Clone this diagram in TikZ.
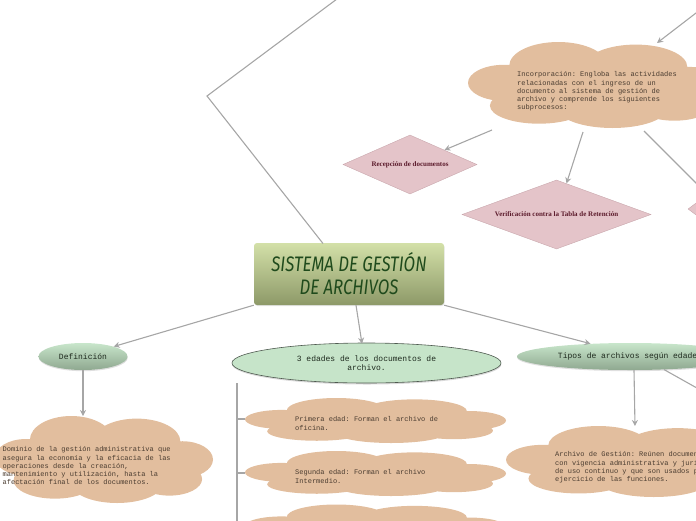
\documentclass[tikz,border=0pt]{standalone}
\usepackage{graphicx}
\usepackage{fontspec}
\setmainfont{Liberation Serif}
\setmonofont{Liberation Mono}
\newfontfamily\titlefont{Fira Sans}
\usetikzlibrary{shapes.geometric,arrows.meta,shadows}
\definecolor{linegray}{HTML}{A6A6A6}
\definecolor{cloudfill}{HTML}{E2BE9E}
\definecolor{cloudtext}{HTML}{4A3C30}
\definecolor{diafill}{HTML}{E4C4C9}
\definecolor{diadraw}{HTML}{C9A7AD}
\definecolor{diatext}{HTML}{5B1A2B}
\definecolor{titletop}{HTML}{D3E0A8}
\definecolor{titlebottom}{HTML}{8D9968}
\definecolor{titletext}{HTML}{1F4A1C}
\definecolor{elltop}{HTML}{C8E6CB}
\definecolor{ellbottom}{HTML}{8FA890}
\definecolor{elltext}{HTML}{1E2A1E}
\definecolor{edadesfill}{HTML}{C6E4C9}
\definecolor{edadesdraw}{HTML}{4F5A50}
\tikzset{
  ln/.style={draw=linegray, line width=1.1pt},
  arr/.style={draw=linegray, line width=1.1pt, -{Stealth[length=6pt,width=6pt]}},
  cloudtxt/.style={font=\ttfamily\fontsize{7}{8.3}\selectfont, text=cloudtext, align=left, inner sep=0pt, anchor=north west},
  dia/.style={diamond, fill=diafill, draw=diadraw, line width=0.4pt, inner sep=0pt,
    font=\bfseries\fontsize{7}{8}\selectfont, text=diatext},
  titlebox/.style={rectangle, rounded corners=3pt, top color=titletop, bottom color=titlebottom,
    minimum width=190pt, minimum height=62pt, inner sep=0pt, align=center, text=titletext,
    font=\titlefont\itshape\fontsize{21}{23}\selectfont,
    drop shadow={opacity=0.2, shadow xshift=0.5pt, shadow yshift=-1pt}},
  gell/.style={ellipse, top color=elltop, bottom color=ellbottom, inner sep=0pt,
    font=\ttfamily\fontsize{8}{9.5}\selectfont, text=elltext,
    drop shadow={opacity=0.25, shadow xshift=0.3pt, shadow yshift=-1.2pt}},
  cloudpic/.pic={
    \fill[cloudfill]
      (0,0.05) ellipse [x radius=0.75, y radius=0.62]
      (-0.3,-0.45) ellipse [x radius=0.38, y radius=0.55]
      (0.3,-0.42) ellipse [x radius=0.4, y radius=0.52]
      (-0.72,-0.05) ellipse [x radius=0.28, y radius=0.42]
      (0.72,0) ellipse [x radius=0.28, y radius=0.42]
      (-0.45,0.48) ellipse [x radius=0.38, y radius=0.42]
      (0.12,0.55) ellipse [x radius=0.42, y radius=0.45]
      (0.6,0.45) ellipse [x radius=0.3, y radius=0.38];
  }
}
\begin{document}
\begin{tikzpicture}[x=1pt,y=-1pt]
\useasboundingbox (0,0) rectangle (696,520);
\clip (0,0) rectangle (696,520);

% clouds
\pic[xscale=129, yscale=43] at (597,85) {cloudpic};
\pic[xscale=109, yscale=43.5] at (104,459.5) {cloudpic};
\pic[xscale=130.5, yscale=22.5] at (375.5,420.5) {cloudpic};
\pic[xscale=130.5, yscale=22.5] at (375.5,473.5) {cloudpic};
\pic[xscale=130.5, yscale=22.5] at (375.5,527) {cloudpic};
\pic[xscale=132, yscale=35.5] at (638,461.5) {cloudpic};

% cloud texts
\node[cloudtxt] (incorp) at (517,71.5) {Incorporación: Engloba las actividades\\relacionadas con el ingreso de un\\documento al sistema de gestión de\\archivo y comprende los siguientes\\subprocesos:};
\node[cloudtxt] (dominio) at (2.5,446.5) {Dominio de la gestión administrativa que\\asegura la economía y la eficacia de las\\operaciones desde la creación,\\mantenimiento y utilización, hasta la\\afectación final de los documentos.};
\node[cloudtxt] (primera) at (295,416.5) {Primera edad: Forman el archivo de\\oficina.};
\node[cloudtxt] (segunda) at (295,469.5) {Segunda edad: Forman el archivo\\Intermedio.};
\node[cloudtxt] (gestion) at (555,451.5) {Archivo de Gestión: Reúnen documentos\\con vigencia administrativa y jurídica\\de uso continuo y que son usados para el\\ejercicio de las funciones.};

% main nodes
\node[titlebox] (title) at (349,274) {\scalebox{0.8}[1]{SISTEMA DE GESTIÓN}\\\scalebox{0.8}[1]{DE ARCHIVOS}};
\node[gell, minimum width=89pt, minimum height=27pt] (defn) at (83,356.5) {Definición};
\node[ellipse, fill=edadesfill, draw=edadesdraw, line width=0.6pt, minimum width=269pt, minimum height=40pt,
  inner sep=0pt, align=center, font=\ttfamily\fontsize{8}{9.5}\selectfont, text=elltext,
  drop shadow={opacity=0.3, shadow xshift=0.3pt, shadow yshift=-1.5pt}] (edades) at (366.5,363)
  {3 edades de los documentos de\\archivo.};
\node[gell, minimum width=226pt, minimum height=27pt] (tipos) at (630,356.5) {Tipos de archivos según edades};

\node[dia, aspect=2.27, minimum width=134pt, minimum height=59pt] (recep) at (410,164.5) {Recepción de documentos};
\node[dia, aspect=2.74, minimum width=189pt, minimum height=69pt] (verif) at (556.5,214.5) {Verificación contra la Tabla de Retención};
\node[dia, aspect=1.35, minimum width=140pt, minimum height=104pt] (dia3) at (758,209) {};

% coordinates for free ends
\coordinate (tA) at (323,243.5);
\coordinate (tB) at (207,96);
\coordinate (tC) at (349,-10);
\coordinate (topR) at (724,-8.5);
\coordinate (incTop) at (657,43);
\coordinate (incA) at (492,130);
\coordinate (incB) at (583,132);
\coordinate (incC) at (644,131);
\coordinate (dia3hit) at (707.5,194.5);
\coordinate (defnCloudTop) at (83,416);
\coordinate (archTop) at (635,426);
\coordinate (tipOff) at (740,412.2);
\coordinate (brTop) at (237,383);
\coordinate (brBot) at (237,530);
\coordinate (br1) at (237,419);
\coordinate (br1e) at (245,419);
\coordinate (br2) at (237,473);
\coordinate (br2e) at (245,473);

% connectors
\draw[ln] (tA) -- (tB) -- (tC);
\draw[arr] (topR) -- (incTop);
\draw[arr] (incA) -- (recep);
\draw[arr] (incB) -- (verif);
\draw[arr] (incC) -- (dia3hit);
\draw[arr] (title.south west) -- (defn.18);
\draw[arr] ([xshift=7pt]title.south) -- ([xshift=-4.5pt,yshift=-1pt]edades.north);
\draw[arr] (title.south east) -- (tipos.162);
\draw[arr] (defn.south) -- (defnCloudTop);
\draw[arr] ([xshift=4pt]tipos.south) -- (archTop);
\draw[ln] (tipos.-21) -- (tipOff);
\draw[ln] (brTop) -- (brBot);
\draw[ln] (br1) -- (br1e);
\draw[ln] (br2) -- (br2e);
\end{tikzpicture}
\end{document}
